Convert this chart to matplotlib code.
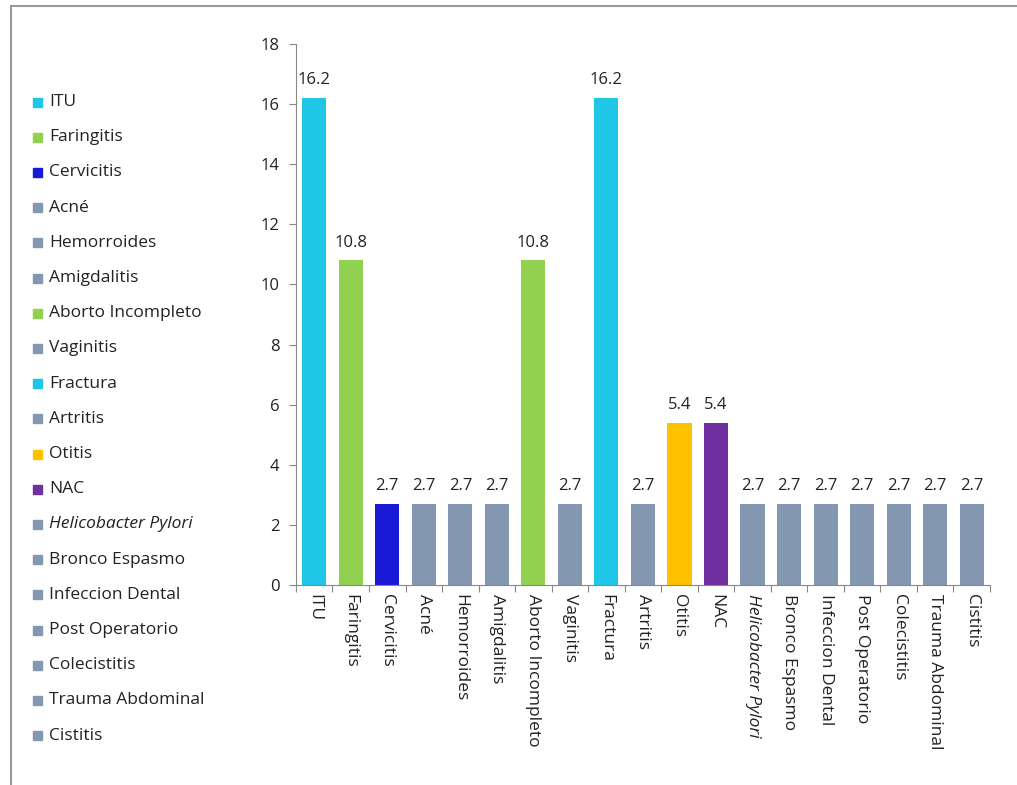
import matplotlib.pyplot as plt
from matplotlib.patches import Rectangle
from matplotlib.lines import Line2D

plt.rcParams["font.family"] = ["Open Sans", "DejaVu Sans"]

# ── data ──────────────────────────────────────────────────────────────────────
categories = ["ITU", "Faringitis", "Cervicitis", "Acné", "Hemorroides",
              "Amigdalitis", "Aborto Incompleto", "Vaginitis", "Fractura",
              "Artritis", "Otitis", "NAC", "Helicobacter Pylori",
              "Bronco Espasmo", "Infeccion Dental", "Post Operatorio",
              "Colecistitis", "Trauma Abdominal", "Cistitis"]
values = [16.2, 10.8, 2.7, 2.7, 2.7, 2.7, 10.8, 2.7, 16.2, 2.7,
          5.4, 5.4, 2.7, 2.7, 2.7, 2.7, 2.7, 2.7, 2.7]
yticks = [0, 2, 4, 6, 8, 10, 12, 14, 16, 18]

CYAN, GREEN, BLUE = "#1fc6e6", "#92d050", "#1a1ad6"
GREY, GOLD, PURPLE = "#8497b0", "#ffc000", "#7030a0"
colors = [CYAN, GREEN, BLUE, GREY, GREY, GREY, GREEN, GREY, CYAN, GREY,
          GOLD, PURPLE, GREY, GREY, GREY, GREY, GREY, GREY, GREY]
italic = {"Helicobacter Pylori"}

FS = 12.5
TXT = "#222222"

# ── figure ────────────────────────────────────────────────────────────────────
fig = plt.figure(figsize=(10.17, 7.85), dpi=100)
ax = fig.add_axes([0.291, 0.2548, 0.6824, 0.6892])

x = range(len(categories))
ax.bar(x, values, width=0.66, color=colors, zorder=2)
for xi, v in zip(x, values):
    ax.annotate(f"{v:g}", (xi, v), xytext=(0, 7), textcoords="offset points",
                ha="center", va="bottom", fontsize=12, color=TXT)

ax.set_xlim(-0.5, len(categories) - 0.5)
ax.set_ylim(0, 18)
ax.set_yticks(yticks)
ax.tick_params(axis="y", labelsize=12, length=5, color="#888888",
               labelcolor=TXT, pad=7)

# category labels sit between tick marks placed at the bar boundaries
ax.set_xticks([i - 0.5 for i in range(len(categories) + 1)])
ax.set_xticklabels([])
ax.tick_params(axis="x", length=5, color="#888888")
for xi, name in zip(x, categories):
    ax.text(xi, -0.3, name, rotation=270, ha="center", va="top",
            fontsize=FS, color=TXT,
            style="italic" if name in italic else "normal")

for side in ("top", "right"):
    ax.spines[side].set_visible(False)
for side in ("left", "bottom"):
    ax.spines[side].set_color("#888888")

# legend drawn as a column of squares and names on the left
W, H = 1017, 785
y0, dy = 102, 35.2
for i, (name, c) in enumerate(zip(categories, colors)):
    yc = y0 + i * dy
    fig.patches.append(Rectangle((33 / W, 1 - (yc + 4.5) / H), 9 / W, 9 / H,
                                 transform=fig.transFigure, color=c))
    fig.text(49 / W, 1 - yc / H, name, ha="left", va="center", fontsize=FS,
             color=TXT, style="italic" if name in italic else "normal")

# outer frame lines
fig.lines.append(Line2D([11 / W, 1], [1 - 6 / H, 1 - 6 / H],
                        transform=fig.transFigure, color="#999999", lw=1.5))
fig.lines.append(Line2D([11 / W, 11 / W], [0, 1 - 6 / H],
                        transform=fig.transFigure, color="#999999", lw=1.5))

fig.savefig("out.png", dpi=100, facecolor="white")
